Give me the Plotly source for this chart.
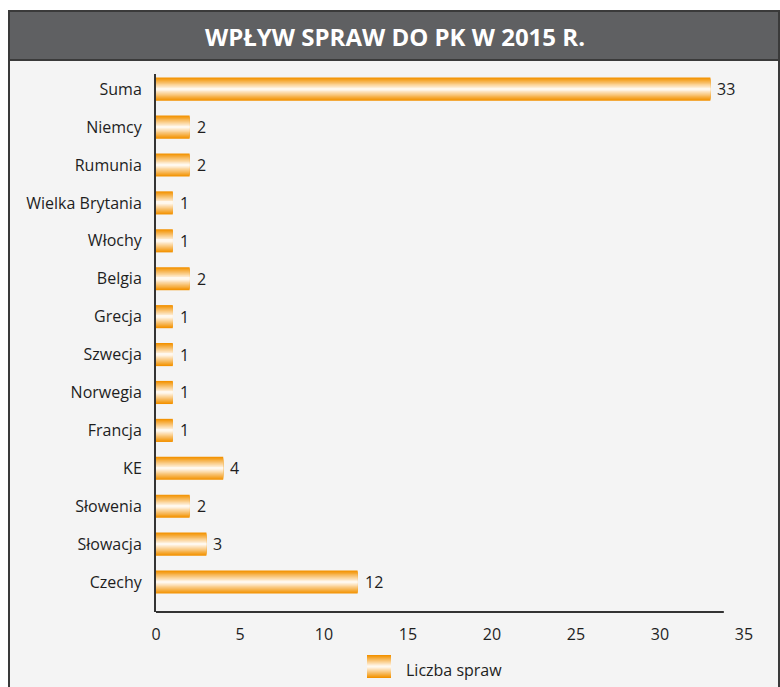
import plotly.graph_objects as go

# ---- data ----
categories = ["Suma", "Niemcy", "Rumunia", "Wielka Brytania", "Włochy", "Belgia",
              "Grecja", "Szwecja", "Norwegia", "Francja", "KE", "Słowenia",
              "Słowacja", "Czechy"]
counts = [33, 2, 2, 1, 1, 2, 1, 1, 1, 1, 4, 2, 3, 12]
x_ticks = [0, 5, 10, 15, 20, 25, 30, 35]
series_name = "Liczba spraw"
title_text = "WPŁYW SPRAW DO PK W 2015 R."

# ---- styling ----
W, H = 780, 687
L, R, T, B = 156, 36, 74, 75
FONT = "Open Sans"
ORANGE = (243, 146, 0)
LIGHT = (255, 248, 238)
N_LAYERS = 12
BAR_W = 0.61
FS = 16


def px_x(px):
    return (px - L) / (W - L - R)


def px_y(py):
    return (H - B - py) / (H - T - B)


def mix(t):
    c = [round(ORANGE[i] + (LIGHT[i] - ORANGE[i]) * t) for i in range(3)]
    return f"rgb({c[0]},{c[1]},{c[2]})"


fig = go.Figure()

# gradient bars: stacked overlay layers, narrowing and lightening towards centre
for k in range(N_LAYERS):
    frac = 1 - k / N_LAYERS
    fig.add_trace(go.Bar(
        x=counts, y=categories, orientation="h",
        width=BAR_W * frac,
        marker=dict(color=mix(k / (N_LAYERS - 1)), line=dict(width=0)),
        showlegend=False, hoverinfo="skip" if k else "x+y",
    ))

# value labels
for c, v in zip(categories, counts):
    fig.add_annotation(x=v, y=c, text=str(v), showarrow=False, xanchor="left",
                       yanchor="middle", xshift=5,
                       font=dict(family=FONT, size=FS, color="#1e1e1e"))

shapes = []
# panel background + border
shapes.append(dict(type="rect", xref="paper", yref="paper",
                   x0=px_x(9), x1=px_x(779), y0=px_y(700), y1=px_y(11),
                   fillcolor="#f4f4f4", line=dict(color="#3a3a3a", width=2),
                   layer="below"))
# title bar
shapes.append(dict(type="rect", xref="paper", yref="paper",
                   x0=px_x(9), x1=px_x(779), y0=px_y(60), y1=px_y(11),
                   fillcolor="#5f6062", line=dict(color="#3a3a3a", width=2),
                   layer="below"))
# x axis line
shapes.append(dict(type="line", xref="x", yref="paper", x0=0, x1=33.8,
                   y0=0, y1=0, line=dict(color="#333", width=2)))
# legend swatch gradient
sx0, sx1, sy0, sy1 = 367, 391, 655, 678
for k in range(N_LAYERS):
    frac = 1 - k / N_LAYERS
    hh = (sy1 - sy0) * frac / 2
    cy = (sy0 + sy1) / 2
    shapes.append(dict(type="rect", xref="paper", yref="paper",
                       x0=px_x(sx0), x1=px_x(sx1), y0=px_y(cy + hh), y1=px_y(cy - hh),
                       fillcolor=mix(k / (N_LAYERS - 1)), line=dict(width=0)))

fig.add_annotation(xref="paper", yref="paper", x=px_x(395), y=px_y(36),
                   xanchor="center", yanchor="middle",
                   text=f"<b>{title_text}</b>", showarrow=False,
                   font=dict(family=FONT, size=24, color="white"))
fig.add_annotation(xref="paper", yref="paper", x=px_x(404), y=px_y(670),
                   text=series_name, showarrow=False, xanchor="left", yanchor="middle",
                   font=dict(family=FONT, size=FS, color="#1e1e1e"))

fig.update_layout(
    width=W, height=H, margin=dict(l=L, r=R, t=T, b=B),
    paper_bgcolor="white", plot_bgcolor="rgba(0,0,0,0)",
    barmode="overlay", showlegend=False, shapes=shapes,
    font=dict(family=FONT, size=FS, color="#1e1e1e"),
)
fig.update_xaxes(range=[0, 35], tickvals=x_ticks, showgrid=False, zeroline=False,
                 showline=False, ticks="", ticklabelstandoff=11,
                 tickfont=dict(family=FONT, size=FS, color="#1e1e1e"))
fig.update_yaxes(type="category", categoryorder="array", categoryarray=categories,
                 range=[13.79, -0.40], showgrid=False, zeroline=False,
                 showline=True, linecolor="#333", linewidth=2, ticks="",
                 ticklabelstandoff=9,
                 tickfont=dict(family=FONT, size=FS, color="#1e1e1e"))

fig.write_html("out.html")
